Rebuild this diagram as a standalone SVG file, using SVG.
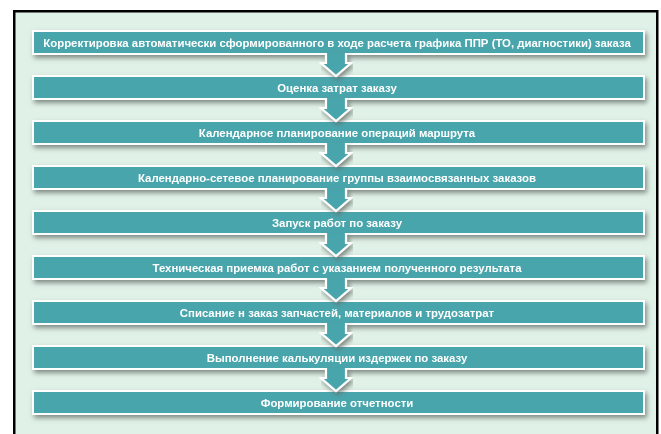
<svg xmlns="http://www.w3.org/2000/svg" width="661" height="434" viewBox="0 0 661 434">
<style>
.box{fill:#49a5ac;stroke:#ffffff;stroke-width:2}
.lbl{font-family:"Liberation Sans",Arial,sans-serif;font-weight:bold;font-size:11.4px;fill:#ffffff;text-anchor:middle}
.arr{fill:#49a5ac;stroke:#ffffff;stroke-width:2.2;stroke-linejoin:miter}
</style>
<defs>
<filter id="sh" x="-5%" y="-60%" width="110%" height="220%">
<feGaussianBlur in="SourceAlpha" stdDeviation="2.5"/>
<feOffset dx="1.5" dy="3" result="b"/>
<feFlood flood-color="#5f6a64" flood-opacity="0.75"/>
<feComposite in2="b" operator="in" result="s"/>
<feMerge><feMergeNode in="s"/><feMergeNode in="SourceGraphic"/></feMerge>
</filter>
</defs>
<rect x="0" y="0" width="661" height="434" fill="#ffffff"/>
<rect x="14.25" y="11.25" width="643" height="440" fill="#e0f1e7" stroke="#000000" stroke-width="2.5"/>
<g id="nodes">
<g id="n1" filter="url(#sh)"><rect class="box" x="33" y="31" width="611" height="23"/><text class="lbl" x="337" y="46.5">Корректировка автоматически сформированного в ходе расчета графика ППР (ТО, диагностики) заказа</text></g>
<g id="n2" filter="url(#sh)"><rect class="box" x="33" y="76" width="611" height="23"/><text class="lbl" x="337" y="91.5">Оценка затрат заказу</text></g>
<g id="n3" filter="url(#sh)"><rect class="box" x="33" y="121" width="611" height="23"/><text class="lbl" x="337" y="136.5">Календарное планирование операций маршрута</text></g>
<g id="n4" filter="url(#sh)"><rect class="box" x="33" y="166" width="611" height="23"/><text class="lbl" x="337" y="181.5">Календарно-сетевое планирование группы взаимосвязанных заказов</text></g>
<g id="n5" filter="url(#sh)"><rect class="box" x="33" y="211" width="611" height="23"/><text class="lbl" x="337" y="226.5">Запуск работ по заказу</text></g>
<g id="n6" filter="url(#sh)"><rect class="box" x="33" y="256" width="611" height="23"/><text class="lbl" x="337" y="271.5">Техническая приемка работ с указанием полученного результата</text></g>
<g id="n7" filter="url(#sh)"><rect class="box" x="33" y="301" width="611" height="23"/><text class="lbl" x="337" y="316.5">Списание н заказ запчастей, материалов и трудозатрат</text></g>
<g id="n8" filter="url(#sh)"><rect class="box" x="33" y="346" width="611" height="23"/><text class="lbl" x="337" y="361.5">Выполнение калькуляции издержек по заказу</text></g>
<g id="n9" filter="url(#sh)"><rect class="box" x="33" y="391" width="611" height="23"/><text class="lbl" x="337" y="406.5">Формирование отчетности</text></g>
</g>
<g id="connectors" filter="url(#sh)">
<path class="arr" d="M326,53 V63 H321 L336,76 L351,63 H346 V53"/>
<path class="arr" d="M326,98 V108 H321 L336,121 L351,108 H346 V98"/>
<path class="arr" d="M326,143 V153 H321 L336,166 L351,153 H346 V143"/>
<path class="arr" d="M326,188 V198 H321 L336,211 L351,198 H346 V188"/>
<path class="arr" d="M326,233 V243 H321 L336,256 L351,243 H346 V233"/>
<path class="arr" d="M326,278 V288 H321 L336,301 L351,288 H346 V278"/>
<path class="arr" d="M326,323 V333 H321 L336,346 L351,333 H346 V323"/>
<path class="arr" d="M326,368 V378 H321 L336,391 L351,378 H346 V368"/>
</g>
</svg>
